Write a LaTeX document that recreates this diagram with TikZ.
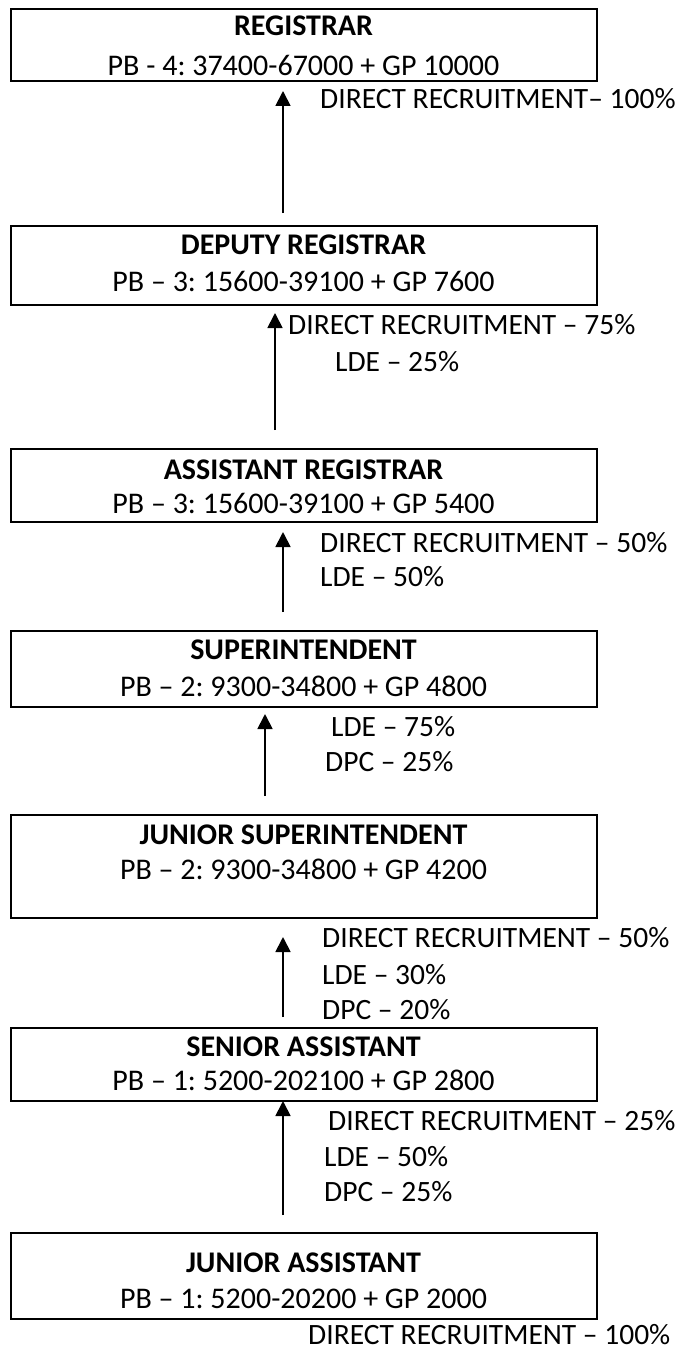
\documentclass[tikz,border=0pt]{standalone}
\usepackage{fontspec}
\setmainfont{Carlito}
\usetikzlibrary{arrows.meta}
\frenchspacing
\begin{document}
\begin{tikzpicture}[x=1pt,y=-1pt,
  post/.style={draw=black,line width=1.8pt,minimum width=586pt,inner sep=0pt,anchor=north west},
  title/.style={font=\fontsize{30}{36}\selectfont\bfseries,inner sep=0pt},
  pay/.style={font=\fontsize{30}{36}\selectfont,inner sep=0pt},
  route/.style={font=\fontsize{29.5}{35}\selectfont,inner sep=0pt,anchor=west},
  up/.style={line width=1.8pt,-{Triangle[length=15pt,width=15pt]}}]
\useasboundingbox (0,0) rectangle (678,1351);

% posts, top to bottom
\node[post,minimum height=72pt] (reg) at (10,8) {};
\node[title] (regT) at (303.5,26) {REGISTRAR};
\node[pay]   (regP) at (303.5,65) {PB - 4: 37400-67000 + GP 10000};

\node[post,minimum height=79pt] (dr) at (10,225) {};
\node[title] (drT) at (303.5,245) {DEPUTY REGISTRAR};
\node[pay]   (drP) at (303.5,281) {PB – 3: 15600-39100 + GP 7600};

\node[post,minimum height=73pt] (ar) at (10,448) {};
\node[title] (arT) at (303.5,470) {ASSISTANT REGISTRAR};
\node[pay]   (arP) at (303.5,503) {PB – 3: 15600-39100 + GP 5400};

\node[post,minimum height=76pt] (sup) at (10,630) {};
\node[title] (supT) at (303.5,650) {SUPERINTENDENT};
\node[pay]   (supP) at (303.5,686) {PB – 2: 9300-34800 + GP 4800};

\node[post,minimum height=103pt] (js) at (10,814) {};
\node[title] (jsT) at (303.5,835) {JUNIOR SUPERINTENDENT};
\node[pay]   (jsP) at (303.5,869) {PB – 2: 9300-34800 + GP 4200};

\node[post,minimum height=73pt] (sa) at (10,1027) {};
\node[title] (saT) at (303.5,1047) {SENIOR ASSISTANT};
\node[pay]   (saP) at (303.5,1080) {PB – 1: 5200-202100 + GP 2800};

\node[post,minimum height=86pt] (ja) at (10,1232) {};
\node[title] (jaT) at (303.5,1263) {JUNIOR ASSISTANT};
\node[pay]   (jaP) at (303.5,1299) {PB – 1: 5200-20200 + GP 2000};

% promotion arrows
\coordinate (h1) at (283,91);   \coordinate (t1) at (283,213);
\coordinate (h2) at (275,313);  \coordinate (t2) at (275,430);
\coordinate (h3) at (283,532);  \coordinate (t3) at (283,612);
\coordinate (h4) at (265,714);  \coordinate (t4) at (265,796);
\coordinate (h5) at (283,937);  \coordinate (t5) at (283,1017);
\coordinate (h6) at (283,1101); \coordinate (t6) at (283,1215);
\foreach \i in {1,...,6} \draw[up] (t\i) -- (h\i);

% modes of recruitment
\node[route] (m1)  at (320,99)   {DIRECT RECRUITMENT– 100\%};
\node[route] (m2a) at (288,325)  {DIRECT RECRUITMENT – 75\%};
\node[route] (m2b) at (335,362)  {LDE – 25\%};
\node[route] (m3a) at (320,543)  {DIRECT RECRUITMENT – 50\%};
\node[route] (m3b) at (320,577)  {LDE – 50\%};
\node[route] (m4a) at (331,727)  {LDE – 75\%};
\node[route] (m4b) at (325,762)  {DPC – 25\%};
\node[route] (m5a) at (322,938)  {DIRECT RECRUITMENT – 50\%};
\node[route] (m5b) at (322,975)  {LDE – 30\%};
\node[route] (m5c) at (322,1010) {DPC – 20\%};
\node[route] (m6a) at (328,1121) {DIRECT RECRUITMENT – 25\%};
\node[route] (m6b) at (324,1157) {LDE – 50\%};
\node[route] (m6c) at (324,1192) {DPC – 25\%};
\node[route] (m7)  at (308,1335) {DIRECT RECRUITMENT – 100\%};
\end{tikzpicture}
\end{document}
